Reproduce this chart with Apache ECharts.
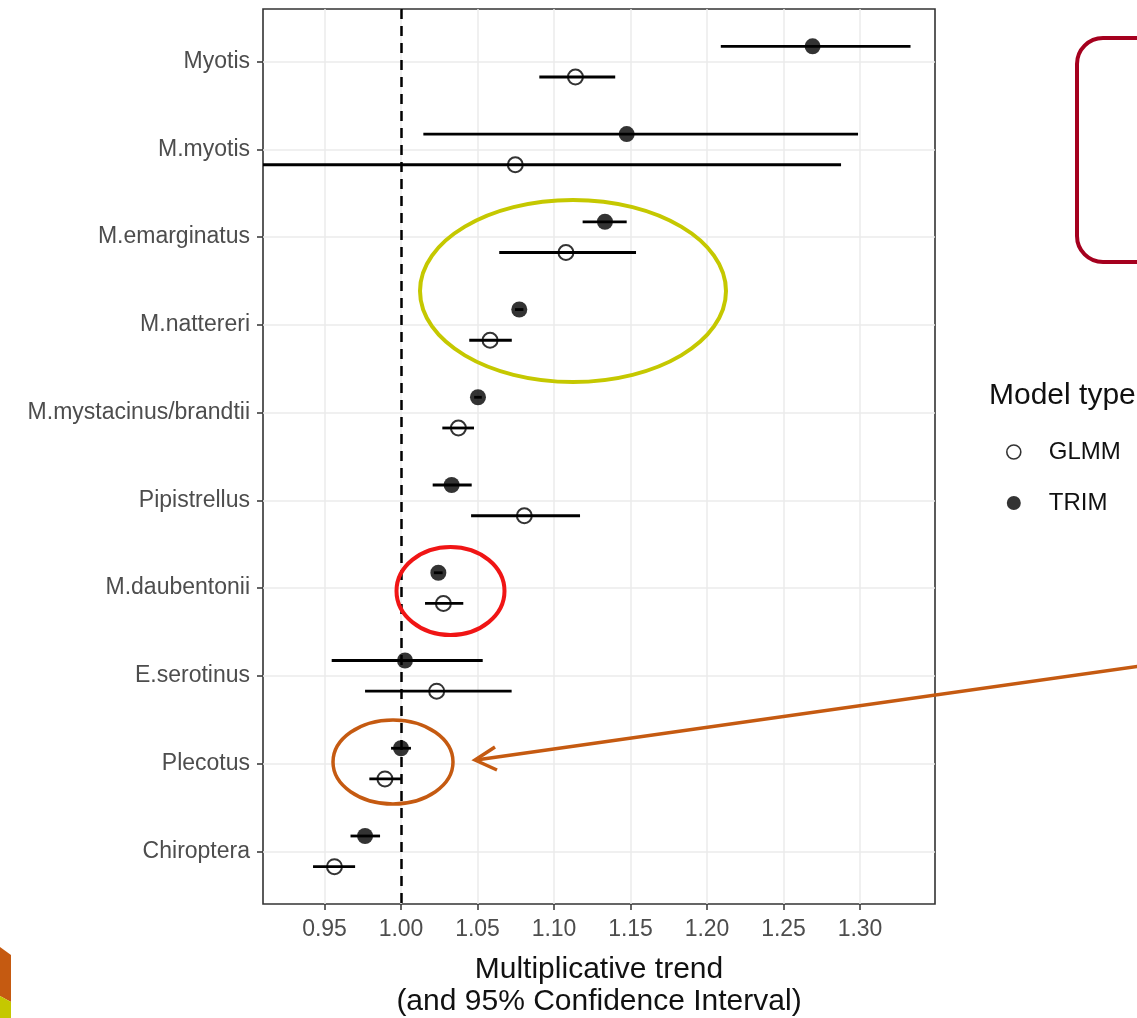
<!DOCTYPE html>
<html><head><meta charset="utf-8">
<script src="https://cdn.jsdelivr.net/npm/echarts@6/dist/echarts.min.js"></script>
<style>html,body{margin:0;padding:0;background:#fff}#chart{width:1137px;height:1018px}</style>
</head><body><div id="chart"></div>
<script>
// ---- data ----
const categories = ['Myotis','M.myotis','M.emarginatus','M.nattereri','M.mystacinus/brandtii','Pipistrellus','M.daubentonii','E.serotinus','Plecotus','Chiroptera'];
const trimEst  = [1.269, 1.1475, 1.1333, 1.0773, 1.0503, 1.0331, 1.0244, 1.0026, 1.0000, 0.9765];
const trimLow  = [1.209, 1.0146, 1.1187, 1.0745, 1.0478, 1.0207, 1.0215, 0.9547, 0.9935, 0.9670];
const trimHigh = [1.333, 1.2987, 1.1475, 1.0800, 1.0528, 1.0462, 1.0272, 1.0534, 1.0065, 0.9863];
const glmmEst  = [1.114, 1.0747, 1.1078, 1.0582, 1.0375, 1.0806, 1.0277, 1.0233, 0.9895, 0.9565];
const glmmLow  = [1.0904, 0.87, 1.0642, 1.0446, 1.0270, 1.0458, 1.0157, 0.9765, 0.9793, 0.9425];
const glmmHigh = [1.140, 1.2876, 1.1536, 1.0724, 1.0477, 1.1170, 1.0407, 1.0723, 1.0004, 0.9700];
const xTicks = [0.95, 1.00, 1.05, 1.10, 1.15, 1.20, 1.25, 1.30];
const refValue = 1.00;
const xTitle = 'Multiplicative trend\n(and 95% Confidence Interval)';
const legendTitle = 'Model type';

// ---- layout / style ----
const FONT = '"Liberation Sans", Arial, Helvetica, sans-serif';
const DODGE = 0.175;
const XMIN = 0.9098, XMAX = 1.349;
const yPos = categories.map((c, i) => i + 1);

function barData(low, high, off) { return categories.map((c, i) => [i + 1 + off, low[i], high[i]]); }
function ptData(est, off) { return categories.map((c, i) => [est[i], i + 1 + off]); }

function errRender(params, api) {
  const y = api.value(0), lo = api.value(1), hi = api.value(2);
  const cs = params.coordSys;
  const p1 = api.coord([lo, y]), p2 = api.coord([hi, y]);
  const x1 = Math.max(cs.x, p1[0]), x2 = Math.min(cs.x + cs.width, p2[0]);
  return { type: 'line', shape: { x1: x1, y1: p1[1], x2: x2, y2: p2[1] },
           style: { stroke: '#000', lineWidth: 2.8 } };
}

const chart = echarts.init(document.getElementById('chart'));
const ORANGE = '#c55a11', YEL = '#c5c800';
chart.setOption({
  animation: false,
  backgroundColor: '#fff',
  grid: { left: 263, right: 202, top: 9, bottom: 114, show: true, borderColor: '#333', borderWidth: 1.6,
          backgroundColor: 'transparent', containLabel: false, outerBoundsMode: 'none' },
  xAxis: {
    type: 'value', min: XMIN, max: XMAX,
    axisLine: { show: false },
    axisTick: { show: true, customValues: xTicks, length: 6, lineStyle: { color: '#333', width: 1.5 } },
    axisLabel: { customValues: xTicks, formatter: v => Number(v).toFixed(2), fontSize: 23, color: '#4d4d4d', margin: 14, fontFamily: FONT },
    splitLine: { show: true, lineStyle: { color: '#ebebeb', width: 1.5 } },
    name: xTitle, nameLocation: 'middle', nameGap: 50,
    nameTextStyle: { fontSize: 30, color: '#111', lineHeight: 32, fontFamily: FONT }
  },
  yAxis: {
    type: 'value', min: 0.4, max: 10.6, inverse: true,
    axisLine: { show: false },
    axisTick: { show: true, customValues: yPos, length: 6, lineStyle: { color: '#333', width: 1.5 } },
    axisLabel: { customValues: yPos, formatter: v => categories[Math.round(v) - 1], fontSize: 23, color: '#4d4d4d', margin: 13, fontFamily: FONT },
    splitLine: { show: true, lineStyle: { color: '#ebebeb', width: 1.5 } }
  },
  legend: {
    orient: 'vertical', left: 1006, top: 440, padding: 0, itemWidth: 14, itemHeight: 14, itemGap: 27,
    selectedMode: false,
    textStyle: { fontSize: 24, color: '#111', fontFamily: FONT, padding: [0, 0, 0, 23] },
    data: [
      { name: 'GLMM', icon: 'circle', itemStyle: { color: 'rgba(0,0,0,0)', borderColor: '#000', borderWidth: 1.6 } },
      { name: 'TRIM', icon: 'circle', itemStyle: { color: '#000', borderWidth: 0 } }
    ]
  },
  series: [
    {
      name: 'GLMM-ci', type: 'custom', renderItem: errRender, data: barData(glmmLow, glmmHigh, DODGE),
      encode: { x: [1, 2], y: 0 }, z: 3, silent: true,
      markLine: { silent: true, symbol: ['none', 'none'], label: { show: false },
        lineStyle: { type: [10, 7], color: '#000', width: 2.5 }, data: [{ xAxis: refValue }] }
    },
    { name: 'TRIM-ci', type: 'custom', renderItem: errRender, data: barData(trimLow, trimHigh, -DODGE),
      encode: { x: [1, 2], y: 0 }, z: 3, silent: true },
    { name: 'GLMM', type: 'scatter', symbol: 'circle', symbolSize: 15, data: ptData(glmmEst, DODGE), z: 5,
      itemStyle: { color: 'rgba(0,0,0,0)', borderColor: '#000', borderWidth: 2 } },
    { name: 'TRIM', type: 'scatter', symbol: 'circle', symbolSize: 16, data: ptData(trimEst, -DODGE), z: 5,
      itemStyle: { color: '#000' } }
  ],
  graphic: [
    { type: 'text', left: 989, top: 381, style: { text: legendTitle, fontSize: 30, fill: '#111', fontFamily: FONT } },
    { type: 'ellipse', shape: { cx: 573, cy: 291, rx: 153, ry: 91 }, style: { fill: 'none', stroke: YEL, lineWidth: 4 }, z: 10 },
    { type: 'ellipse', shape: { cx: 450.5, cy: 591, rx: 54, ry: 44 }, style: { fill: 'none', stroke: '#f01515', lineWidth: 4 }, z: 10 },
    { type: 'ellipse', shape: { cx: 393, cy: 762, rx: 60, ry: 42 }, style: { fill: 'none', stroke: ORANGE, lineWidth: 3.5 }, z: 10 },
    { type: 'rect', shape: { x: 1077, y: 38, width: 120, height: 224, r: 26 }, style: { fill: 'none', stroke: '#a5001e', lineWidth: 4 }, z: 10 },
    { type: 'line', shape: { x1: 1140, y1: 666, x2: 476, y2: 760 }, style: { stroke: ORANGE, lineWidth: 3.5 }, z: 10 },
    { type: 'polyline', shape: { points: [[495, 747], [475, 760], [497, 770]] }, style: { fill: 'none', stroke: ORANGE, lineWidth: 3.5, lineJoin: 'miter' }, z: 10 },
    { type: 'polygon', shape: { points: [[0, 947], [11, 955], [11, 1002], [0, 996]] }, style: { fill: ORANGE }, z: 10 },
    { type: 'polygon', shape: { points: [[0, 996], [11, 1002], [11, 1018], [0, 1018]] }, style: { fill: YEL }, z: 10 }
  ]
});
</script></body></html>
